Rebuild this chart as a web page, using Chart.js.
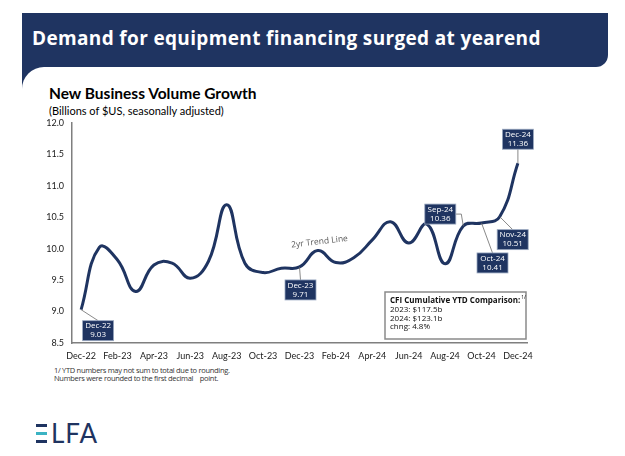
<!DOCTYPE html>
<html>
<head>
<meta charset="utf-8">
<title>New Business Volume Growth</title>
<script src="https://cdn.jsdelivr.net/npm/chart.js@4"></script>
<style>
  html, body { margin: 0; padding: 0; background: #fff; }
  #page { position: relative; width: 625px; height: 456px; overflow: hidden; font-family: "Open Sans", sans-serif; }
  .banner { position: absolute; left: 22px; top: 13px; width: 586px; height: 54px; background: #1f3461; border-bottom-right-radius: 12px; }
  .bannerTail { position: absolute; left: 22px; top: 50px; width: 40px; height: 40px; background: #1f3461; }
  .card { position: absolute; left: 22px; top: 67px; width: 603px; height: 389px; background: #fff; border-top-left-radius: 22px; }
  .headline { position: absolute; left: 32px; top: 29px; color: #fff; font-weight: 700; font-size: 19px; line-height: 19px; letter-spacing: 0.35px; white-space: nowrap; }
  .chartTitle { position: absolute; left: 49px; top: 85px; font-family: Lato, sans-serif; font-weight: 700; font-size: 15.5px; line-height: 16px; color: #000; white-space: nowrap; }
  .chartSub { position: absolute; left: 49px; top: 105px; font-family: Lato, sans-serif; font-size: 11px; line-height: 11px; color: #000; white-space: nowrap; }
  .note { position: absolute; left: 54px; font-size: 7.5px; line-height: 8px; color: #333; white-space: pre; letter-spacing: -0.3px; }
  .logoBar { position: absolute; left: 36px; width: 11px; height: 3px; background: #1f3461; }
  .logoText { position: absolute; left: 51px; top: 420px; font-family: Lato, sans-serif; font-size: 26px; line-height: 26px; color: #1f3461; letter-spacing: 1px; }
  #wrap { position: absolute; left: 0; top: 0; width: 625px; height: 456px; }
</style>
</head>
<body>
<div id="page">
  <div class="banner"></div>
  <div class="bannerTail"></div>
  <div class="card"></div>
  <div class="headline">Demand for equipment financing surged at yearend</div>
  <div class="chartTitle">New Business Volume Growth</div>
  <div class="chartSub">(Billions of $US, seasonally adjusted)</div>
  <div class="note" style="top:366px">1/ YTD numbers may not sum to total due to rounding.</div>
  <div class="note" style="top:374px">Numbers were rounded to the first decimal    point.</div>
  <div class="logoBar" style="top:424px"></div>
  <div class="logoBar" style="top:432px;background:#3bb3c3"></div>
  <div class="logoBar" style="top:440px"></div>
  <div class="logoText">LFA</div>
  <div id="wrap"><canvas id="chartVolume"></canvas></div>
</div>

<script>
// meses Dec-22 .. Dec-24
const months = [
  "Dec-22", "Jan-23", "Feb-23", "Mar-23", "Apr-23", "May-23", "Jun-23",
  "Jul-23", "Aug-23", "Sep-23", "Oct-23", "Nov-23", "Dec-23",
  "Jan-24", "Feb-24", "Mar-24", "Apr-24", "May-24", "Jun-24",
  "Jul-24", "Aug-24", "Sep-24", "Oct-24", "Nov-24", "Dec-24"
];
// billions of $US, seasonally adjusted
const volume = [
  9.03, 10.02, 9.82, 9.32, 9.74, 9.77, 9.53,
  9.80, 10.70, 9.77, 9.62, 9.69, 9.71,
  9.97, 9.78, 9.86, 10.14, 10.43, 10.09,
  10.39, 9.76, 10.36, 10.41, 10.51, 11.36
];
const yMin = 8.5;
const yMax = 12.0;
const yStep = 0.5;

// which points get a callout box (index into months)
const calloutIdx = [0, 12, 21, 22, 23, 24];

const cfiTitle = "CFI Cumulative YTD Comparison:";
const cfiLines = ["2023: $117.5b", "2024: $123.1b", "chng: 4.8%"];
const trendText = "2yr Trend Line";

const navy = "#1f3461";

// box placement relative to its point (px), and where the leader joins the box
const calloutPos = {
  0:  { dx: 17, dy: 21, side: "top" },
  12: { dx: 1, dy: 23, side: "top" },
  21: { dx: -23, dy: -12, side: "right" },
  22: { dx: 11, dy: 40, side: "top" },
  23: { dx: 13, dy: 23, side: "top" },
  24: { dx: 0, dy: -24, side: "bottom" }
};

const annotations = {
  id: "annotations",
  afterDatasetsDraw(chart) {
    const ctx = chart.ctx;
    const xs = chart.scales.x, ys = chart.scales.y;
    const area = chart.chartArea;
    ctx.save();

    // 2yr trend line label
    ctx.save();
    ctx.translate(xs.getPixelForValue(13.1), ys.getPixelForValue(10.11));
    ctx.rotate(-6.5 * Math.PI / 180);
    ctx.font = "8.5px 'Open Sans'";
    ctx.fillStyle = "#595959";
    ctx.textAlign = "center";
    ctx.textBaseline = "middle";
    ctx.fillText(trendText, 0, 0);
    ctx.restore();

    // callouts
    const bw = 31, bh = 20;
    calloutIdx.forEach(function (i) {
      const p = calloutPos[i];
      const px = xs.getPixelForValue(i);
      const py = ys.getPixelForValue(volume[i]);
      const cx = px + p.dx, cy = py + p.dy;
      const left = cx - bw / 2, top = cy - bh / 2;

      ctx.strokeStyle = "#6b6b6b";
      ctx.lineWidth = 0.8;
      ctx.beginPath();
      ctx.moveTo(px, py);
      if (p.side === "top") ctx.lineTo(cx, top);
      else if (p.side === "bottom") ctx.lineTo(cx, top + bh);
      else { ctx.lineTo(px - 2, cy); ctx.lineTo(left + bw, cy); }
      ctx.stroke();

      ctx.fillStyle = navy;
      ctx.fillRect(left, top, bw, bh);
      ctx.strokeStyle = "#9aa8c0";
      ctx.lineWidth = 0.8;
      ctx.strokeRect(left, top, bw, bh);

      ctx.fillStyle = "#fff";
      ctx.font = "8px 'Open Sans'";
      ctx.textAlign = "center";
      ctx.textBaseline = "middle";
      ctx.fillText(months[i], cx, cy - 4.5);
      ctx.fillText(volume[i].toFixed(2), cx, cy + 4.5);
    });

    // CFI box
    const w = 141, h = 47;
    const bx = area.right - w - 1, by = area.bottom - h - 4;
    ctx.fillStyle = "#fff";
    ctx.fillRect(bx, by, w, h);
    ctx.strokeStyle = "#8a8a8a";
    ctx.lineWidth = 1.5;
    ctx.strokeRect(bx, by, w, h);
    ctx.fillStyle = "#111";
    ctx.textAlign = "left";
    ctx.textBaseline = "alphabetic";
    ctx.font = "bold 8px 'Open Sans'";
    ctx.fillText(cfiTitle, bx + 5, by + 11);
    const tw = ctx.measureText(cfiTitle).width;
    ctx.font = "5px 'Open Sans'";
    ctx.fillText("1/", bx + 6 + tw, by + 7);
    ctx.font = "8px 'Open Sans'";
    cfiLines.forEach(function (t, k) {
      ctx.fillText(t, bx + 5, by + 20 + k * 8.5);
    });

    ctx.restore();
  }
};

const ctx = document.getElementById("chartVolume").getContext("2d");
new Chart(ctx, {
  type: "line",
  data: {
    labels: months,
    datasets: [{
      data: volume,
      borderColor: navy,
      borderWidth: 3,
      pointRadius: 0,
      tension: 0.45,
      fill: false
    }]
  },
  options: {
    responsive: true,
    maintainAspectRatio: false,
    animation: false,
    layout: { padding: { top: 123, right: 98, bottom: 0, left: 0 } },
    plugins: { legend: { display: false }, tooltip: { enabled: false } },
    scales: {
      x: {
        type: "category",
        offset: true,
        grid: { display: false, drawTicks: false },
        border: { display: true, color: "#7f7f7f", width: 1.5 },
        ticks: {
          autoSkip: false,
          maxRotation: 0,
          padding: 8,
          color: "#1a1a1a",
          font: { family: "Lato", size: 9 },
          callback: function (v, i) { return i % 2 === 0 ? months[i] : ""; }
        },
        afterFit: function (scale) { scale.height = 113; }
      },
      y: {
        min: yMin,
        max: yMax,
        grid: { display: false, drawTicks: false },
        border: { display: true, color: "#7f7f7f", width: 1.5 },
        ticks: {
          stepSize: yStep,
          padding: 8,
          color: "#1a1a1a",
          font: { family: "Lato", size: 9 },
          callback: function (v) { return Number(v).toFixed(1); }
        },
        afterFit: function (scale) { scale.width = 72; }
      }
    }
  },
  plugins: [annotations]
});
</script>
</body>
</html>
